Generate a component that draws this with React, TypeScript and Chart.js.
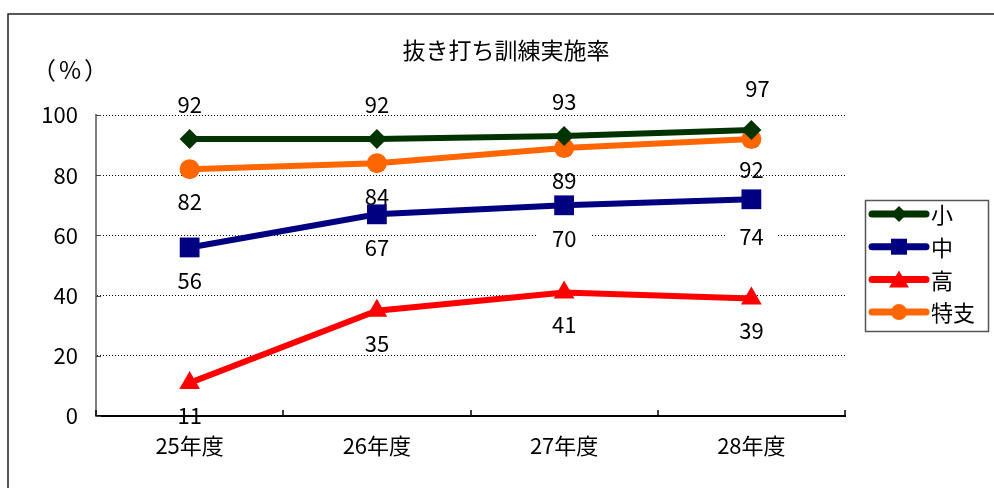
import React, { useEffect, useRef } from "react";
import { Chart, registerables } from "chart.js";
Chart.register(...registerables);

// ---- data ----
const chartTitle = "抜き打ち訓練実施率";
const unitOpen = "（";
const unitSign = "%";
const unitClose = "）";
const categories = ["25年度", "26年度", "27年度", "28年度"];
const seriesNames = ["小", "中", "高", "特支"];
const shoValues = [92, 92, 93, 95];
const chuValues = [56, 67, 70, 72];
const koValues = [11, 35, 41, 39];
const tokushiValues = [82, 84, 89, 92];
const shoLabels = ["92", "92", "93", "97"];
const chuLabels = ["56", "67", "70", "74"];
const koLabels = ["11", "35", "41", "39"];
const tokushiLabels = ["82", "84", "89", "92"];
const yMin = 0;
const yMax = 100;
const yStep = 20;

// ---- styles ----
const FONT = '"Noto Sans CJK JP", "Noto Sans", sans-serif';
const series = [
  { name: seriesNames[0], values: shoValues, labels: shoLabels, color: "#003300", point: "rectRot", radius: 10, legendR: 8, dy: [-34, -34, -34, -41], dx: [0, 0, 0, 6], bg: false },
  { name: seriesNames[1], values: chuValues, labels: chuLabels, color: "#000080", point: "rect", radius: 14, legendR: 8, dy: [33, 33, 33, 37], dx: [0, 0, 0, 0], bg: true },
  { name: seriesNames[2], values: koValues, labels: koLabels, color: "#FF0000", point: "triangle", radius: 12, legendR: 9, dy: [33, 33, 32, 32], dx: [0, 0, 0, 0], bg: false },
  { name: seriesNames[3], values: tokushiValues, labels: tokushiLabels, color: "#FF6600", point: "circle", radius: 10, legendR: 8, dy: [32, 33, 33, 31], dx: [0, 0, 0, 0], bg: false },
];

function drawMarker(ctx: CanvasRenderingContext2D, style: string, x: number, y: number, r: number) {
  ctx.beginPath();
  if (style === "rectRot") {
    ctx.moveTo(x, y - r);
    ctx.lineTo(x + r, y);
    ctx.lineTo(x, y + r);
    ctx.lineTo(x - r, y);
    ctx.closePath();
  } else if (style === "rect") {
    ctx.rect(x - r, y - r, 2 * r, 2 * r);
  } else if (style === "triangle") {
    ctx.moveTo(x, y - r);
    ctx.lineTo(x + r * 1.1, y + r * 0.9);
    ctx.lineTo(x - r * 1.1, y + r * 0.9);
    ctx.closePath();
  } else {
    ctx.arc(x, y, r, 0, Math.PI * 2);
  }
  ctx.fill();
}

const valueLabelPlugin = {
  id: "valueLabels",
  afterDatasetsDraw(chart: any) {
    const ctx = chart.ctx as CanvasRenderingContext2D;
    ctx.save();
    ctx.font = `22px ${FONT}`;
    ctx.textAlign = "center";
    ctx.textBaseline = "middle";
    series.forEach((s, di) => {
      const meta = chart.getDatasetMeta(di);
      meta.data.forEach((pt: any, i: number) => {
        const x = pt.x + s.dx[i];
        const y = pt.y + s.dy[i];
        const text = s.labels[i];
        if (s.bg) {
          const w = ctx.measureText(text).width;
          ctx.fillStyle = "#fff";
          ctx.fillRect(x - w / 2 - 14, y - 10, w + 28, 20);
        }
        ctx.fillStyle = "#000";
        ctx.fillText(text, x, y);
      });
    });
    ctx.restore();
  },
};

const decorPlugin = {
  id: "decor",
  afterDraw(chart: any) {
    const ctx = chart.ctx as CanvasRenderingContext2D;
    const area = chart.chartArea;
    ctx.save();
    // outer frame
    ctx.strokeStyle = "#222";
    ctx.lineWidth = 1.5;
    ctx.beginPath();
    ctx.moveTo(8, 500);
    ctx.lineTo(8, 14);
    ctx.lineTo(1000, 14);
    ctx.stroke();

    // title
    ctx.fillStyle = "#000";
    ctx.font = `23px ${FONT}`;
    ctx.textAlign = "center";
    ctx.textBaseline = "middle";
    ctx.fillText(chartTitle, 506, 50);

    // unit label
    ctx.font = `24px ${FONT}`;
    ctx.textAlign = "left";
    ctx.fillText(unitOpen, 32, 70);
    ctx.textAlign = "center";
    ctx.fillText(unitSign, 70, 70);
    ctx.textAlign = "right";
    ctx.fillText(unitClose, 108, 70);

    // x tick marks (pointing up)
    const n = categories.length;
    ctx.strokeStyle = "#000";
    ctx.lineWidth = 1.5;
    for (let i = 0; i <= n; i++) {
      const x = Math.round(area.left + (i * (area.right - area.left)) / n);
      ctx.beginPath();
      ctx.moveTo(x, area.bottom);
      ctx.lineTo(x, area.bottom - 6);
      ctx.stroke();
    }
    // y tick marks (pointing right)
    const ys = chart.scales.y;
    ctx.strokeStyle = "#444";
    ctx.lineWidth = 1;
    for (let v = yMin; v <= yMax; v += yStep) {
      const y = Math.round(ys.getPixelForValue(v)) + 0.5;
      ctx.beginPath();
      ctx.moveTo(area.left, y);
      ctx.lineTo(area.left + 5, y);
      ctx.stroke();
    }

    // legend
    const lx = 865, ly = 200, lw = 123, lh = 131;
    ctx.fillStyle = "#fff";
    ctx.fillRect(lx, ly, lw, lh);
    ctx.strokeStyle = "#555";
    ctx.lineWidth = 1.5;
    ctx.strokeRect(lx + 0.5, ly + 0.5, lw, lh);
    ctx.font = `22px ${FONT}`;
    ctx.textAlign = "left";
    ctx.textBaseline = "middle";
    series.forEach((s, i) => {
      const y = 214 + i * 32.7;
      ctx.strokeStyle = s.color;
      ctx.lineWidth = 7;
      ctx.lineCap = "round";
      ctx.beginPath();
      ctx.moveTo(872, y);
      ctx.lineTo(926, y);
      ctx.stroke();
      ctx.fillStyle = s.color;
      drawMarker(ctx, s.point, 899, y, s.legendR);
      ctx.fillStyle = "#000";
      ctx.fillText(s.name, 931, y + 1);
    });
    ctx.restore();
  },
};

export default function App() {
  const canvasRef = useRef<HTMLCanvasElement | null>(null);

  useEffect(() => {
    const canvas = canvasRef.current;
    if (!canvas) return;
    Chart.defaults.font.family = FONT;
    const chart = new Chart(canvas, {
      type: "line",
      data: {
        labels: categories,
        datasets: series.map((s) => ({
          label: s.name,
          data: s.values,
          borderColor: s.color,
          backgroundColor: s.color,
          borderWidth: 6,
          pointStyle: s.point as any,
          pointRadius: s.radius,
          pointBorderWidth: 0,
          pointBackgroundColor: s.color,
          tension: 0,
          fill: false,
        })),
      },
      options: {
        animation: false,
        responsive: false,
        devicePixelRatio: 1,
        layout: { padding: { left: 0, right: 149, top: 115, bottom: 0 } },
        plugins: {
          legend: { display: false },
          title: { display: false },
          tooltip: { enabled: false },
        },
        scales: {
          x: {
            type: "category",
            offset: true,
            grid: { display: false },
            border: { display: true, color: "#000", width: 2 },
            ticks: { color: "#000", font: { size: 22, family: FONT }, padding: 8 },
            afterFit: (s: any) => {
              s.height = 72;
            },
          },
          y: {
            min: yMin,
            max: yMax,
            grid: { color: "#000", lineWidth: 1, drawTicks: false },
            border: { display: true, color: "#808080", width: 2, dash: [1, 2] },
            ticks: { stepSize: yStep, color: "#000", font: { size: 22, family: FONT }, padding: 18 },
            afterFit: (s: any) => {
              s.width = 96;
            },
          },
        },
      },
      plugins: [valueLabelPlugin, decorPlugin],
    });
    return () => chart.destroy();
  }, []);

  return (
    <div style={{ position: "fixed", left: 0, top: 0, width: 994, height: 488, background: "#fff" }}>
      <canvas ref={canvasRef} width={994} height={488} style={{ display: "block", width: 994, height: 488 }} />
    </div>
  );
}
